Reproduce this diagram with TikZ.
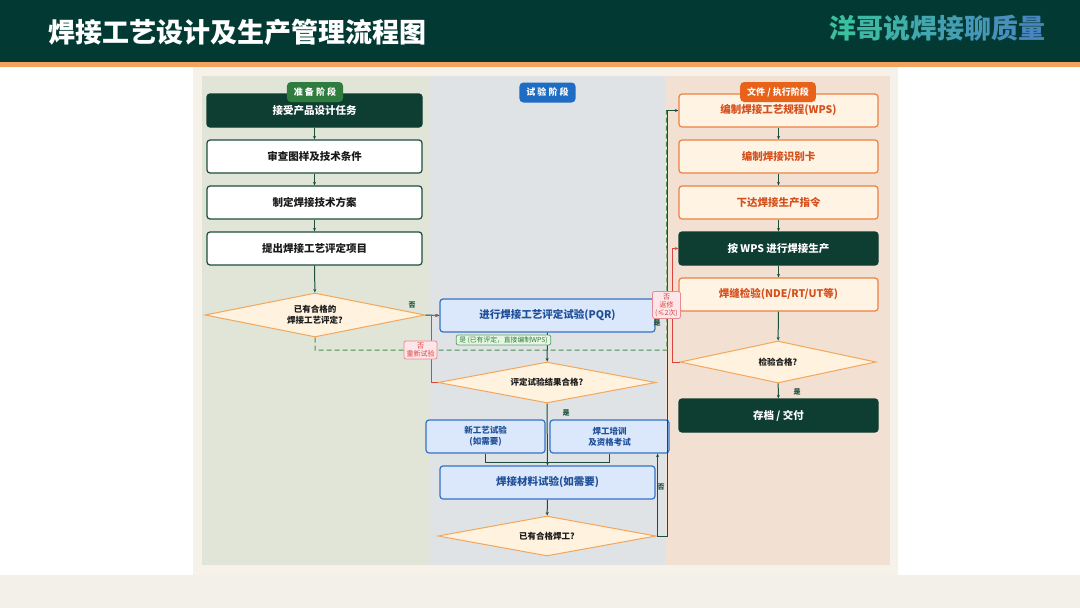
\documentclass[tikz,border=0pt]{standalone}
\usepackage{fontspec}
\setmainfont{Noto Sans CJK SC}
\usetikzlibrary{shapes.geometric,arrows.meta,calc}
\definecolor{hdr}{HTML}{023A33}
\definecolor{hdrline}{HTML}{F4A35E}
\definecolor{panel}{HTML}{F6F1E9}
\definecolor{botstrip}{HTML}{F3F0E9}
\definecolor{colL}{HTML}{E0E5D8}
\definecolor{colM}{HTML}{DFE3E5}
\definecolor{colR}{HTML}{F2E1D3}
\definecolor{dk}{HTML}{0E3D31}
\definecolor{gb}{HTML}{1D4D3A}
\definecolor{gbadge}{HTML}{2F7D3E}
\definecolor{bbadge}{HTML}{1E6CC4}
\definecolor{obadge}{HTML}{E8621A}
\definecolor{bfill}{HTML}{DBE8FB}
\definecolor{bdraw}{HTML}{3472C4}
\definecolor{btext}{HTML}{1F4F99}
\definecolor{ofill}{HTML}{FFF3E4}
\definecolor{odraw}{HTML}{EE8040}
\definecolor{otext}{HTML}{D4501C}
\definecolor{dfill}{HTML}{FFF2DE}
\definecolor{ddraw}{HTML}{F4A65A}
\definecolor{redl}{HTML}{D9443C}
\definecolor{pinkf}{HTML}{FDE6E9}
\definecolor{pinkd}{HTML}{E98A93}
\definecolor{greenf}{HTML}{E9F5E4}
\definecolor{greend}{HTML}{5EA36A}
\definecolor{greent}{HTML}{2E7D3E}
\definecolor{lc}{HTML}{1E4D3B}
\definecolor{dashc}{HTML}{4A8F55}
\definecolor{gA}{HTML}{3CBFA0}
\definecolor{gB}{HTML}{4A86C2}
\definecolor{txt}{HTML}{1A1A1A}
\begin{document}
\begin{tikzpicture}[x=1pt,y=-1pt,
  box/.style={rounded corners=3pt,line width=1.2pt,minimum height=33pt,inner sep=0pt,align=center,font=\bfseries\fontsize{10.5}{13}\selectfont},
  darkbox/.style={box,fill=dk,draw=dk,text=white},
  whitebox/.style={box,fill=white,draw=gb,text=txt,minimum width=215pt},
  bluebox/.style={box,fill=bfill,draw=bdraw,text=btext},
  orbox/.style={box,fill=ofill,draw=odraw,text=otext,minimum width=199pt},
  dia/.style={diamond,aspect=5,fill=dfill,draw=ddraw,line width=1pt,inner sep=0pt,align=center,text=txt,font=\bfseries\fontsize{8.5}{11}\selectfont},
  badge/.style={rounded corners=4pt,text=white,inner xsep=7pt,minimum height=20pt,font=\bfseries\fontsize{9}{10}\selectfont},
  pinklab/.style={rounded corners=2pt,fill=pinkf,draw=pinkd,line width=0.8pt,text=redl,align=center,inner sep=2pt,font=\fontsize{7}{8}\selectfont},
  greenlab/.style={rounded corners=2pt,fill=greenf,draw=greend,line width=0.8pt,text=greent,inner xsep=3pt,inner ysep=1.5pt,font=\fontsize{6.8}{7.5}\selectfont},
  ylab/.style={text=lc,font=\bfseries\fontsize{7}{8}\selectfont,inner sep=0pt},
  conn/.style={draw=lc,line width=1pt,-{Stealth[length=3.5pt,width=3pt]}},
  plain/.style={draw=lc,line width=1pt},
  redconn/.style={draw=redl,line width=1pt,-{Stealth[length=3.5pt,width=3pt]}},
  dashline/.style={draw=dashc,line width=1pt,dash pattern=on 5pt off 3pt}
]
\useasboundingbox (0,0) rectangle (1080,608);
% backgrounds
\fill[white] (0,0) rectangle (1080,608);
\fill[hdr] (0,0) rectangle (1080,62);
\fill[hdrline] (0,62) rectangle (1080,67);
\fill[panel] (193,67) rectangle (898,575);
\fill[botstrip] (0,575) rectangle (1080,608);
\fill[colL] (202,76) rectangle (430,565);
\fill[colM] (430,76) rectangle (665,565);
\fill[colR] (665,76) rectangle (890,565);
% header
\node[anchor=west,text=white,font=\bfseries\fontsize{27}{30}\selectfont,inner sep=0pt] (title) at (48,32) {焊接工艺设计及生产管理流程图};
\node[anchor=east,font=\bfseries\fontsize{27}{30}\selectfont,inner sep=0pt] (brand) at (1046,28) {\textcolor{gA!100!gB}{洋}\textcolor{gA!86!gB}{哥}\textcolor{gA!72!gB}{说}\textcolor{gA!58!gB}{焊}\textcolor{gA!44!gB}{接}\textcolor{gA!30!gB}{聊}\textcolor{gA!16!gB}{质}\textcolor{gA!2!gB}{量}};
% left column
\node[darkbox,minimum width=215pt] (a1) at (314.5,110.5) {接受产品设计任务};
\node[whitebox] (a2) at (314.5,156.5) {审查图样及技术条件};
\node[whitebox] (a3) at (314.5,202.5) {制定焊接技术方案};
\node[whitebox] (a4) at (314.5,248.5) {提出焊接工艺评定项目};
\node[dia,minimum width=220pt,minimum height=44pt] (d1) at (315,315) {已有合格的\\焊接工艺评定?};
% middle column
\node[bluebox,minimum width=215pt] (pqr) at (547.5,315.5) {进行焊接工艺评定试验(PQR)};
\node[dia,minimum width=218pt,minimum height=41pt] (d2) at (547,382.5) {评定试验结果合格?};
\node[bluebox,minimum width=119pt,font=\bfseries\fontsize{8.5}{11}\selectfont] (newp) at (485.5,436.5) {新工艺试验\\(如需要)};
\node[bluebox,minimum width=119pt,font=\bfseries\fontsize{8.5}{11}\selectfont] (weld) at (609.5,436.5) {焊工培训\\及资格考试};
\node[bluebox,minimum width=215pt] (mat) at (547.5,482.5) {焊接材料试验(如需要)};
\node[dia,minimum width=218pt,minimum height=40pt] (d3) at (547,536) {已有合格焊工?};
% right column
\node[orbox] (wps) at (778.5,110.5) {编制焊接工艺规程(WPS)};
\node[orbox] (card) at (778.5,156.5) {编制焊接识别卡};
\node[orbox] (order) at (778.5,202.5) {下达焊接生产指令};
\node[darkbox,minimum width=199pt] (prod) at (778.5,248.5) {按 WPS 进行焊接生产};
\node[orbox] (insp) at (778.5,294.5) {焊缝检验(NDE/RT/UT等)};
\node[dia,minimum width=196pt,minimum height=42pt] (d4) at (778,362) {检验合格?};
\node[darkbox,minimum width=199pt] (arch) at (778.5,415.5) {存档 / 交付};
% connectors left
\draw[conn] (a1) -- (a2);
\draw[conn] (a2) -- (a3);
\draw[conn] (a3) -- (a4);
\draw[conn] (a4) -- (d1);
\draw[conn] (d1.east) -- (pqr.west);
\node[ylab] (nNo1) at (412,305) {否};
% dashed yes path
\coordinate (bus) at (667,350);
\draw[plain] (d3.east) -- ++(11,0) |- (wps.west);
\draw[conn] ($(wps.west)+(-12,0)$) -- (wps.west);
\draw[dashline] (d1.south) |- (bus) -- ($(wps.west)+(-12,0)$);
% red retest
\draw[redconn] (d2.west) -- ++(-6,0) |- ($(pqr.west)+(-1,0)$);
% middle connectors
\draw[conn] (pqr) -- (d2);
\draw[conn] (d2.south) -- (mat.north);
\draw[plain] (newp.south) -- ++(0,9) -| (weld.south);
\draw[conn] (mat) -- (d3);
\draw[conn] (d3.east) -| ($(weld.south east)+(-12,0)$);
\node[ylab] (nYes2) at (566,413) {是};
\node[ylab] (nYes3) at (657,323) {是};
\node[ylab] (nNo3) at (661,487) {否};
% right connectors
\draw[conn] (wps) -- (card);
\draw[conn] (card) -- (order);
\draw[conn] (order) -- (prod);
\draw[conn] (prod) -- (insp);
\draw[conn] (insp) -- (d4);
\draw[conn] (d4) -- (arch);
\node[ylab] (nYes4) at (797,392) {是};
\draw[redconn] (d4.west) -- ++(-7,0) |- (prod.west);
% badges
\node[badge,fill=gbadge] (bL) at (315,92) {准 备 阶 段};
\node[badge,fill=bbadge] (bM) at (547.5,92.5) {试 验 阶 段};
\node[badge,fill=obadge] (bR) at (778,92) {文件 / 执行阶段};
% labels
\node[greenlab] (lyes) at (503.5,340) {是 (已有评定，直接编制WPS)};
\node[pinklab,minimum width=33pt] (lretest) at (420.5,350) {否\\重新试验};
\node[pinklab,minimum width=28pt] (lrepair) at (666.5,305) {否\\返修\\(≤2次)};
\end{tikzpicture}
\end{document}
